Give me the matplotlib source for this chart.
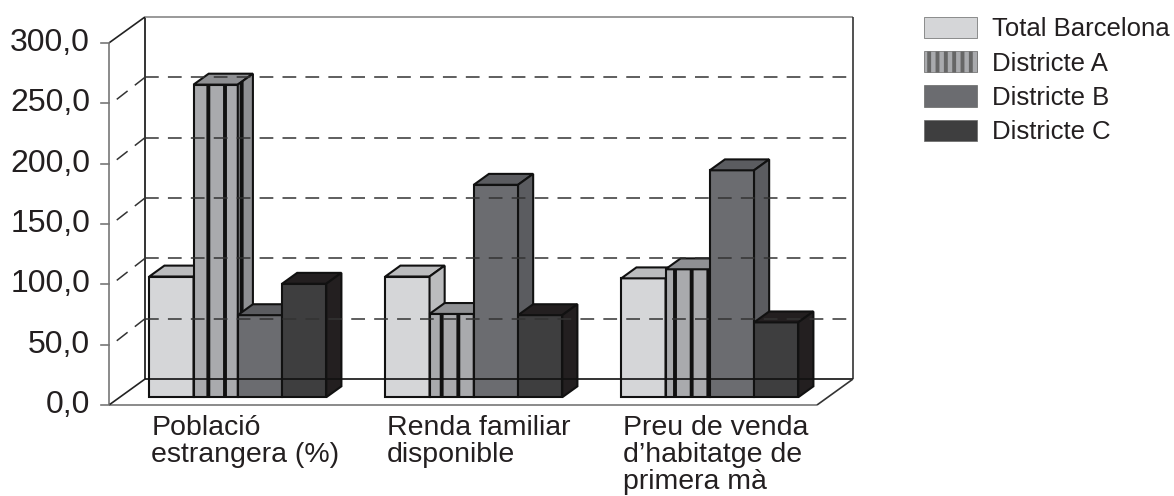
import matplotlib
matplotlib.use("Agg")
import matplotlib.pyplot as plt
from matplotlib.patches import Polygon, Patch

plt.rcParams["font.family"] = ["Liberation Sans", "DejaVu Sans"]
plt.rcParams["hatch.linewidth"] = 2.8

# data
categories = ["Població\nestrangera (%)", "Renda familiar\ndisponible",
              "Preu de venda\nd\u2019habitatge de\nprimera mà"]
series = ["Total Barcelona", "Districte A", "Districte B", "Districte C"]
total_bcn = [100.0, 100.0, 98.5]
districte_a = [259.0, 69.0, 106.0]
districte_b = [68.0, 176.0, 188.0]
districte_c = [94.0, 68.0, 62.0]
yticks = [0, 50, 100, 150, 200, 250, 300]
ytick_labels = ["0,0", "50,0", "100,0", "150,0", "200,0", "250,0", "300,0"]

values = [total_bcn, districte_a, districte_b, districte_c]
# (front, top, side, hatch)
styles = [
    ("#d5d6d8", "#bbbcbe", "#bbbcbe", None),
    ("#a9aaad", "#8f9093", "#8f9093", "|"),
    ("#6b6c70", "#5b5c60", "#5b5c60", None),
    ("#3e3e3f", "#231f20", "#231f20", None),
]

# oblique depth offset (per unit of depth), in data units
DX = 0.1525
DY = 21.5
YMAX = 300


def P(x, y, d):
    return (x + d * DX, y + d * DY)


fig = plt.figure(figsize=(11.74, 4.96), dpi=100)
ax = fig.add_axes([0, 0, 1, 1])
ax.set_xlim(-109 / 236, (1174 - 109) / 236)
ax.set_ylim(-91 / 1.207, (496 - 91) / 1.207)
ax.axis("off")

n = len(categories)
frame_kw = dict(lw=1.2, solid_capstyle="butt")

# walls & floor
ax.plot(*zip(P(0, 0, 0), P(0, YMAX, 0)), color="#777777", **frame_kw)
ax.plot(*zip(P(0, YMAX, 0), P(0, YMAX, 1)), color="#222222", **frame_kw)
ax.plot(*zip(P(0, 0, 1), P(0, YMAX, 1)), color="#111111", **frame_kw)
ax.plot(*zip(P(0, YMAX, 1), P(n, YMAX, 1)), color="#888888", **frame_kw)
ax.plot(*zip(P(n, 0, 1), P(n, YMAX, 1)), color="#333333", **frame_kw)
ax.plot(*zip(P(0, 0, 0), P(n, 0, 0)), color="#777777", **frame_kw)
ax.plot(*zip(P(0, 0, 0), P(0, 0, 1)), color="#222222", **frame_kw)
ax.plot(*zip(P(0, 0, 1), P(n, 0, 1)), color="#111111", **frame_kw)
ax.plot(*zip(P(n, 0, 0), P(n, 0, 1)), color="#333333", **frame_kw)

# gridlines (back wall + side wall)
for v in yticks[1:-1]:
    ax.plot(*zip(P(0, v, 1), P(n, v, 1)), color="#333333", lw=1.1,
            dashes=(9, 6))
    ax.plot(*zip(P(0.01, v, 0.15), P(0, v, 1)), color="#333333", lw=1.1,
            dashes=(9, 6))

# ticks and labels
for v, lab in zip(yticks, ytick_labels):
    ax.plot([-0.032, 0], [v, v], color="#777777", lw=1.2)
    ax.text(-0.08, v, lab, ha="right", va="center", fontsize=23,
            color="#231f20")

# bars
bw = 0.1875
d0, d1 = 0.3, 0.72
for i in range(n):
    for j, vals in enumerate(values):
        v = vals[i]
        front, top, side, hatch = styles[j]
        x0 = i + 0.125 + j * bw
        x1 = x0 + bw
        kw = dict(edgecolor="#111111", lw=1.5, joinstyle="miter")
        ax.add_patch(Polygon([P(x0, 0, d0), P(x1, 0, d0), P(x1, v, d0),
                              P(x0, v, d0)], facecolor=front, hatch=hatch,
                             **kw))
        ax.add_patch(Polygon([P(x0, v, d0), P(x1, v, d0), P(x1, v, d1),
                              P(x0, v, d1)], facecolor=top, **kw))
        ax.add_patch(Polygon([P(x1, 0, d0), P(x1, 0, d1), P(x1, v, d1),
                              P(x1, v, d0)], facecolor=side, hatch=hatch,
                             **kw))

# category labels
for i, cat in enumerate(categories):
    x, y = P(i + 0.125, 0, d0)
    ax.text(x + 0.008, -8.0, cat, ha="left", va="top", fontsize=20.5,
            linespacing=1.07, color="#231f20")

handles = [Patch(facecolor=s[0], edgecolor="#666666",
                 hatch=("||" if s[3] else None), lw=0.5) for s in styles]
fig.legend(handles, series, loc="upper left",
           bbox_to_anchor=(911 / 1174, 1 - 4 / 496), frameon=False,
           fontsize=18.5, borderpad=0, handlelength=2.05, handleheight=0.9,
           handletextpad=0.6, labelspacing=0.38, labelcolor="#231f20")

fig.savefig("out.png", dpi=100)
